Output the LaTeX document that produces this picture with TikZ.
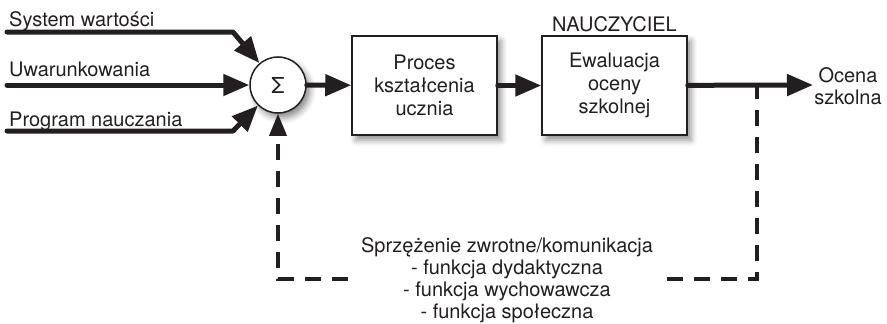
\documentclass[tikz,border=0pt]{standalone}
\usepackage{fontspec}
\setmainfont{TeX Gyre Heros}
\usetikzlibrary{arrows.meta,shadows.blur}
\definecolor{ink}{RGB}{35,31,32}
\begin{document}
\begin{tikzpicture}[x=1pt,y=-1pt,
  every node/.style={font=\fontsize{20}{23}\selectfont, text=ink},
  mainline/.style={draw=ink, line width=5pt, line cap=round, line join=round},
  mainarrow/.style={mainline, -{Triangle[length=26pt,width=21pt]}},
  fbline/.style={draw=ink, line width=3.5pt, dash pattern=on 16pt off 11pt},
  fbarrow/.style={fbline, -{Triangle[length=22pt,width=17pt]}},
  softshadow/.style={blur shadow={shadow xshift=4pt, shadow yshift=-5pt, shadow blur radius=6pt, shadow opacity=45}},
  blockbox/.style={draw=ink, line width=1.5pt, fill=white, minimum width=145pt, minimum height=99pt, align=center, inner sep=0pt, softshadow},
  sumnode/.style={circle, draw=ink, line width=1.5pt, fill=white, minimum size=56pt, inner sep=0pt, softshadow},
  inlabel/.style={anchor=base west, inner sep=0pt}
]
\useasboundingbox (0,0) rectangle (887,324);

% nodes
\node[sumnode, font=\fontsize{22}{24}\selectfont] (sum) at (278,85) {Σ};
\node[blockbox] (proc) at (424.5,85.5) {Proces\\kształcenia\\ucznia};
\node[blockbox] (eval) at (614.5,85.5) {Ewaluacja\\oceny\\szkolnej};
\node[anchor=base, inner sep=0pt] (teacher) at (614.5,31) {NAUCZYCIEL};
\node[align=center, inner sep=0pt, font=\fontsize{20}{22}\selectfont] (grade) at (848,86) {Ocena\\szkolna};

\node[inlabel] (l1) at (9,26) {System wartości};
\node[inlabel] (l2) at (9,76) {Uwarunkowania};
\node[inlabel] (l3) at (9,126) {Program nauczania};

\node[anchor=base, align=center, inner sep=0pt, font=\fontsize{20}{22}\selectfont] (fb) at (507,318)
  {Sprzężenie zwrotne/komunikacja\\- funkcja dydaktyczna\\- funkcja wychowawcza\\- funkcja społeczna};

% coordinates
\coordinate (s1) at (7,32);
\coordinate (k1) at (233,32);
\coordinate (s2) at (7,85);
\coordinate (s3) at (7,131);
\coordinate (k3) at (233,131);
\coordinate (oend) at (813,85);
\coordinate (tapR) at (757,85);
\coordinate (cR) at (757,279);
\coordinate (gR) at (667,279);
\coordinate (gL) at (348,279);
\coordinate (cL) at (278,279);

% connectors
\draw[mainarrow] (s1) -- (k1) -- (sum);
\draw[mainarrow] (s2) -- (sum);
\draw[mainarrow] (s3) -- (k3) -- (sum);
\draw[mainarrow] (sum) -- (proc);
\draw[mainarrow] (proc) -- (eval);
\draw[mainarrow] (eval) -- (oend);

\draw[fbline] (gR) -- (cR) -- (tapR);
\draw[fbarrow] (gL) -- (cL) -- (sum);
\end{tikzpicture}
\end{document}
